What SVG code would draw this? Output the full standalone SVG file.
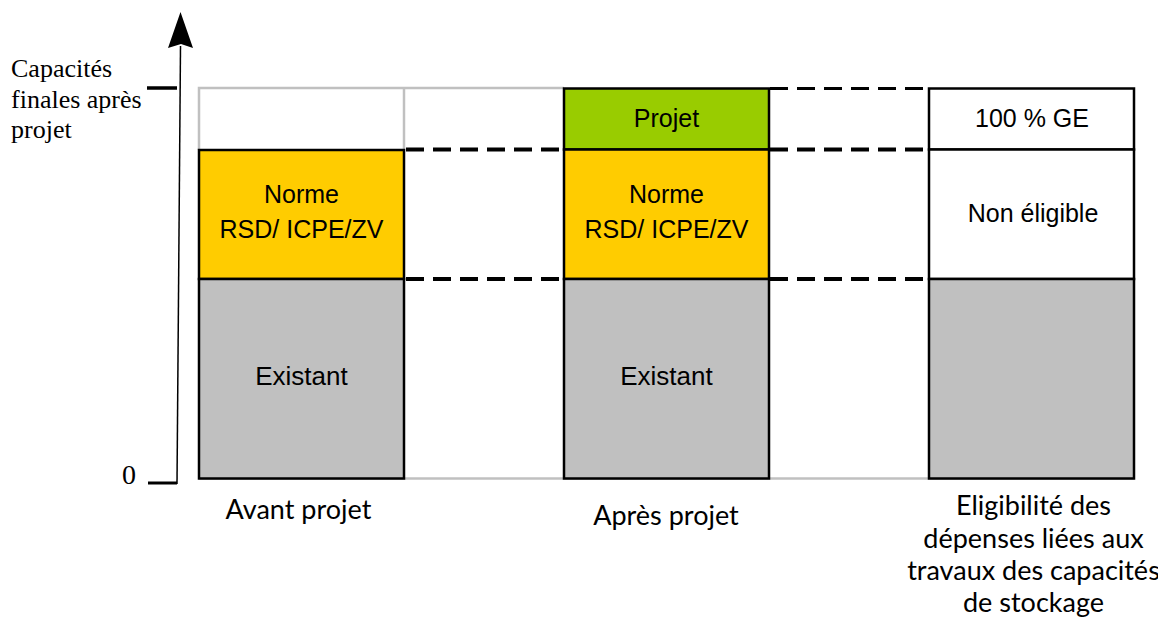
<svg xmlns="http://www.w3.org/2000/svg" width="1158" height="624" viewBox="0 0 1158 624">
<style>
.box{stroke:#000;stroke-width:2.5}
.yel{fill:#FFCC00}
.grn{fill:#99CC00}
.gry{fill:#C0C0C0}
.wht{fill:#FFFFFF}
.lbl{font-family:"Liberation Sans",Arial,sans-serif;font-size:25px;fill:#000;text-anchor:middle}
.serif{font-family:"Liberation Serif","Times New Roman",serif;font-size:26px;fill:#000}
.cap{font-family:Lato,"Open Sans",sans-serif;font-size:27px;fill:#000;text-anchor:middle}
.dash{stroke:#000;stroke-dasharray:18 9;fill:none}
.guide{stroke:#C0C0C0;stroke-width:2.5;fill:none}
</style>
<rect width="1158" height="624" fill="#fff"/>
<g id="guides">
<polyline class="guide" points="199,150 199,88 564,88"/>
<line class="guide" x1="404" y1="88" x2="404" y2="150"/>
<line class="guide" x1="199" y1="478.5" x2="1134" y2="478.5"/>
</g>
<g id="axis">
<line x1="180.5" y1="46" x2="177" y2="484" stroke="#000" stroke-width="1.5"/>
<polygon points="180.5,12 193,48 181,44 168,48" fill="#000"/>
<line x1="147" y1="88" x2="177" y2="88" stroke="#000" stroke-width="3.5"/>
<line x1="148" y1="483" x2="177" y2="483" stroke="#000" stroke-width="3"/>
<text class="serif" x="11" y="77">Capacités</text>
<text class="serif" x="11" y="108">finales après</text>
<text class="serif" x="11" y="138">projet</text>
<text class="serif" x="122" y="484" style="font-size:28px">0</text>
</g>
<g id="connectors">
<line class="dash" x1="770" y1="88.5" x2="929" y2="88.5" stroke-width="3.2"/>
<line class="dash" x1="406" y1="149.5" x2="564" y2="149.5" stroke-width="4"/>
<line class="dash" x1="770" y1="149.5" x2="929" y2="149.5" stroke-width="4"/>
<line class="dash" x1="406" y1="279" x2="564" y2="279" stroke-width="4"/>
<line class="dash" x1="770" y1="279" x2="929" y2="279" stroke-width="4"/>
</g>
<g id="avant-norme">
<rect class="box yel" x="199" y="150" width="205" height="129"/>
<text class="lbl" x="301.5" y="203.3">Norme</text>
<text class="lbl" x="301.5" y="237.7">RSD/ ICPE/ZV</text>
</g>
<g id="avant-existant">
<rect class="box gry" x="199" y="279" width="205" height="199.5"/>
<text class="lbl" x="301.5" y="385" style="font-size:26px">Existant</text>
</g>
<g id="apres-projet">
<rect class="box grn" x="564" y="88.5" width="205" height="61"/>
<text class="lbl" x="666.5" y="127.3">Projet</text>
</g>
<g id="apres-norme">
<rect class="box yel" x="564" y="149.5" width="205" height="129.5"/>
<text class="lbl" x="666.5" y="203.3">Norme</text>
<text class="lbl" x="666.5" y="237.7">RSD/ ICPE/ZV</text>
</g>
<g id="apres-existant">
<rect class="box gry" x="564" y="279" width="205" height="199.5"/>
<text class="lbl" x="666.5" y="385" style="font-size:26px">Existant</text>
</g>
<g id="elig-ge">
<rect class="box wht" x="929" y="88.5" width="205" height="61"/>
<text class="lbl" x="1032" y="127.3">100 % GE</text>
</g>
<g id="elig-non">
<rect class="box wht" x="929" y="149.5" width="205" height="129.5"/>
<text class="lbl" x="1033" y="221.7">Non éligible</text>
</g>
<g id="elig-existant">
<rect class="box gry" x="929" y="279" width="205" height="199.5"/>
</g>
<g id="captions">
<text class="cap" x="298.5" y="519">Avant projet</text>
<text class="cap" x="666" y="525">Après projet</text>
<text class="cap" x="1033.5" y="515">Eligibilité des</text>
<text class="cap" x="1033.5" y="548">dépenses liées aux</text>
<text class="cap" x="1033.5" y="580">travaux des capacités</text>
<text class="cap" x="1033.5" y="612">de stockage</text>
</g>
</svg>
